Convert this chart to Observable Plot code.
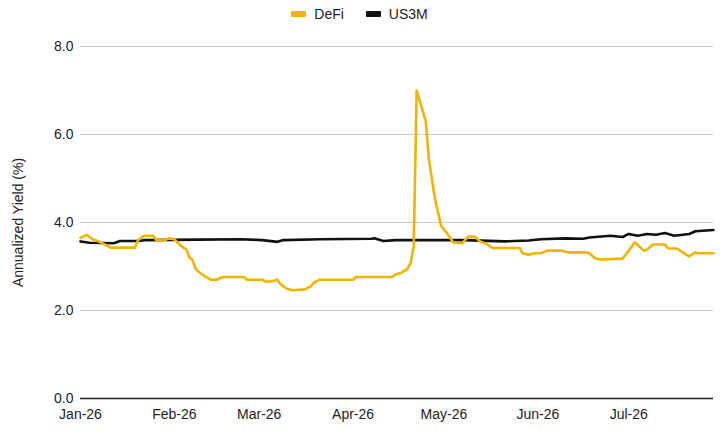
<!DOCTYPE html>
<html>
<head>
<meta charset="utf-8">
<script src="https://cdn.jsdelivr.net/npm/d3@7"></script>
<script src="https://cdn.jsdelivr.net/npm/@observablehq/plot@0.6"></script>
<style>
  body { margin: 0; background: #fff; font-family: "Liberation Sans", Arial, sans-serif; }
  #legend { height: 28px; display: flex; justify-content: center; align-items: center; gap: 22px; font-size: 14px; color: #222; padding-right: 8px; }
  .item { display: flex; align-items: center; gap: 8px; }
  .sw { width: 15px; height: 6px; border-radius: 1px; display: inline-block; }
</style>
</head>
<body>
<div id="legend"></div>
<div id="chart"></div>
<script>
const seriesNames = ["DeFi", "US3M"];
const seriesColors = ["#f0b400", "#111111"];

const defiDates = ["2026-01-01","2026-01-03","2026-01-05","2026-01-07","2026-01-09","2026-01-11","2026-01-19","2026-01-20","2026-01-22","2026-01-25","2026-01-26","2026-01-29","2026-01-30","2026-02-01","2026-02-03","2026-02-05","2026-02-06","2026-02-07","2026-02-08","2026-02-09","2026-02-11","2026-02-12","2026-02-13","2026-02-15","2026-02-17","2026-02-24","2026-02-25","2026-03-02","2026-03-03","2026-03-05","2026-03-07","2026-03-08","2026-03-10","2026-03-12","2026-03-16","2026-03-18","2026-03-19","2026-03-21","2026-04-01","2026-04-02","2026-04-14","2026-04-15","2026-04-17","2026-04-19","2026-04-20","2026-04-21","2026-04-22","2026-04-25","2026-04-26","2026-04-28","2026-04-30","2026-05-02","2026-05-04","2026-05-07","2026-05-09","2026-05-11","2026-05-13","2026-05-15","2026-05-17","2026-05-26","2026-05-27","2026-05-29","2026-05-31","2026-06-02","2026-06-04","2026-06-09","2026-06-11","2026-06-17","2026-06-18","2026-06-20","2026-06-22","2026-06-29","2026-07-01","2026-07-03","2026-07-06","2026-07-07","2026-07-09","2026-07-13","2026-07-14","2026-07-17","2026-07-20","2026-07-21","2026-07-23","2026-07-24","2026-07-29"];
const defiValues = [3.65,3.72,3.62,3.57,3.5,3.43,3.43,3.6,3.7,3.7,3.6,3.6,3.64,3.62,3.48,3.38,3.2,3.15,2.95,2.88,2.78,2.74,2.7,2.7,2.76,2.76,2.7,2.7,2.66,2.66,2.7,2.6,2.5,2.46,2.48,2.55,2.63,2.7,2.7,2.76,2.76,2.82,2.86,2.95,3.08,3.45,7.0,6.3,5.45,4.55,3.93,3.76,3.55,3.53,3.68,3.68,3.57,3.52,3.42,3.42,3.3,3.27,3.3,3.3,3.36,3.36,3.32,3.32,3.3,3.18,3.16,3.18,3.36,3.55,3.36,3.38,3.5,3.5,3.41,3.41,3.27,3.23,3.32,3.3,3.3];

const usDates = ["2026-01-01","2026-01-04","2026-01-12","2026-01-14","2026-01-20","2026-01-22","2026-02-09","2026-02-23","2026-03-02","2026-03-07","2026-03-09","2026-03-21","2026-04-07","2026-04-08","2026-04-11","2026-04-15","2026-04-28","2026-05-08","2026-05-21","2026-05-29","2026-06-02","2026-06-10","2026-06-16","2026-06-18","2026-06-25","2026-06-29","2026-07-01","2026-07-04","2026-07-07","2026-07-10","2026-07-13","2026-07-16","2026-07-21","2026-07-23","2026-07-29"];
const usValues = [3.57,3.54,3.53,3.58,3.58,3.6,3.61,3.62,3.6,3.56,3.6,3.62,3.63,3.64,3.58,3.6,3.6,3.6,3.57,3.59,3.62,3.64,3.63,3.66,3.7,3.67,3.74,3.7,3.74,3.72,3.76,3.7,3.74,3.8,3.83];

const yTicks = [0, 2, 4, 6, 8];
const xTickDates = ["2026-01-01","2026-02-01","2026-03-01","2026-04-01","2026-05-01","2026-06-01","2026-07-01"];

const parse = d3.utcParse("%Y-%m-%d");
const defi = defiDates.map((d, i) => ({date: parse(d), value: defiValues[i], series: "DeFi"}));
const us = usDates.map((d, i) => ({date: parse(d), value: usValues[i], series: "US3M"}));

// legend
const legend = document.getElementById("legend");
seriesNames.forEach((n, i) => {
  const it = document.createElement("div");
  it.className = "item";
  it.innerHTML = `<span class="sw" style="background:${seriesColors[i]}"></span><span>${n}</span>`;
  legend.appendChild(it);
});

const chart = Plot.plot({
  width: 727,
  height: 406,
  marginTop: 18,
  marginBottom: 36,
  marginLeft: 80,
  marginRight: 14,
  style: {fontFamily: "'Liberation Sans', Arial, sans-serif", fontSize: "14px", color: "#222", background: "#fff"},
  x: {
    type: "utc",
    domain: [parse("2026-01-01"), parse("2026-07-29")],
    ticks: xTickDates.map(parse),
    tickFormat: d3.utcFormat("%b-%y"),
    tickSize: 0,
    tickPadding: 11,
    label: null
  },
  y: {
    domain: [0, 8],
    ticks: yTicks,
    tickFormat: d3.format(".1f"),
    tickSize: 0,
    tickPadding: 7,
    label: "Annualized Yield (%)",
    labelAnchor: "center",
    labelArrow: "none",
    labelOffset: 67
  },
  color: {domain: seriesNames, range: seriesColors},
  marks: [
    Plot.gridY(yTicks.filter(t => t !== 0), {stroke: "#cccccc", strokeOpacity: 1, strokeWidth: 1}),
    Plot.ruleY([0], {stroke: "#222", strokeWidth: 1.3}),
    Plot.line(us, {x: "date", y: "value", stroke: "series", strokeWidth: 2.6}),
    Plot.line(defi, {x: "date", y: "value", stroke: "series", strokeWidth: 2.6})
  ]
});
document.getElementById("chart").appendChild(chart);
</script>
</body>
</html>
